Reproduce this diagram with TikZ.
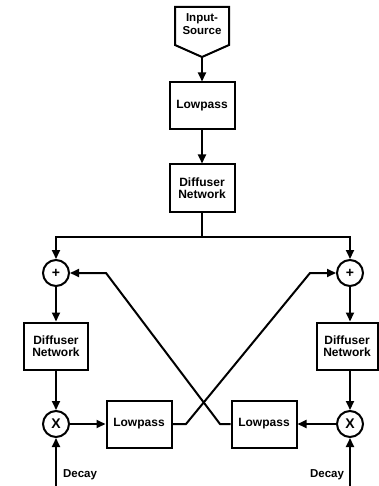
\documentclass[tikz,border=0pt]{standalone}
\usepackage{fontspec}
\setmainfont{Liberation Sans}
\usetikzlibrary{arrows.meta}

\tikzset{
  wire/.style={line width=2pt},
  flow/.style={wire, -{Triangle[length=9pt,width=8pt]}},
  blk/.style={draw, line width=2pt, minimum width=65pt, minimum height=47pt,
    align=center, inner sep=1pt, font=\fontsize{12}{12.5}\selectfont\bfseries},
  sum/.style={circle, draw, line width=2pt, minimum size=26pt, inner sep=0pt,
    font=\fontsize{14}{14}\selectfont\bfseries},
  lbl/.style={font=\fontsize{11.5}{12.5}\selectfont\bfseries, inner sep=0pt}
}

\begin{document}
\begin{tikzpicture}[x=1pt,y=-1pt]
  \useasboundingbox (0,0) rectangle (378,486);

  % source
  \draw[wire, line join=miter] (175,7) -- (229,7) -- (229,45) -- (202,57) -- (175,45) -- cycle;
  \node[lbl, align=center] (src) at (202,24) {Input-\\Source};
  \coordinate (srctip) at (202,57);

  % main chain
  \node[blk] (lp) at (202,106) {Lowpass};
  \node[blk] (dn) at (202,188) {Diffuser\\Network};
  \coordinate (split) at (202,237);

  % left branch
  \node[sum] (sumL) at (56,273) {+};
  \node[blk, minimum width=64pt] (dnL) at (56,346) {Diffuser\\Network};
  \node[sum] (mulL) at (56,424) {X};
  \node[blk] (lpL) at (139,424) {Lowpass};
  \coordinate (inL) at (56,486);
  \node[lbl] (decL) at (80,475) {Decay};

  % right branch
  \node[sum] (sumR) at (350,273) {+};
  \node[blk, minimum width=61pt] (dnR) at (347,346) {Diffuser\\Network};
  \node[sum] (mulR) at (350,424) {X};
  \node[blk] (lpR) at (264,424) {Lowpass};
  \coordinate (inR) at (350,486);
  \node[lbl] (decR) at (327,475) {Decay};

  \draw[flow] (srctip) -- (lp);
  \draw[flow] (lp) -- (dn);
  \draw[wire] (dn) -- (split);
  \draw[flow] (split) -| (sumL);
  \draw[flow] (split) -| (sumR);

  \draw[flow] (sumL) -- (dnL);
  \draw[flow] (dnL) -- (mulL);
  \draw[flow] (inL) -- (mulL);
  \draw[flow] (mulL) -- (lpL);

  \draw[flow] (sumR) -- (sumR |- dnR.north);
  \draw[flow] (dnR.south -| mulR) -- (mulR);
  \draw[flow] (inR) -- (mulR);
  \draw[flow] (mulR) -- (lpR);

  % cross feedback
  \draw[flow, line join=miter] (lpL.east) -- (186,424) -- (310,273) -- (sumR.west);
  \draw[flow, line join=miter] (lpR.west) -- (220,424) -- (106,273) -- (sumL.east);
\end{tikzpicture}
\end{document}
